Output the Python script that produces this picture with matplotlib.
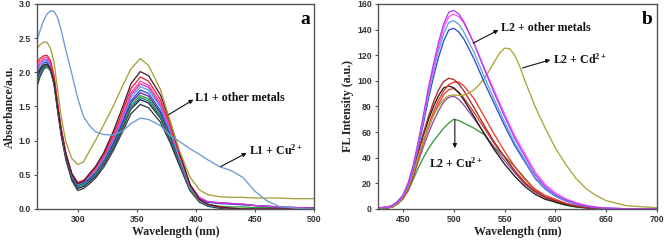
import matplotlib
matplotlib.use("Agg")
import matplotlib.pyplot as plt

plt.rcParams['mathtext.fontset'] = 'custom'
plt.rcParams['mathtext.rm'] = 'Liberation Serif:bold'
plt.rcParams['mathtext.bf'] = 'Liberation Serif:bold'
plt.rcParams['mathtext.it'] = 'Liberation Serif:bold'

# ---------------- Panel a data (absorbance) ----------------
wl_a = [265, 268, 271, 274, 277, 280, 283, 286, 290, 295, 300, 305, 310, 315, 322, 330, 338,
        345, 353, 360, 370, 378, 386, 395, 403, 410, 420, 430, 440, 450, 460, 470, 485, 500]

abs_cu = [2.43, 2.6, 2.75, 2.85, 2.9, 2.89, 2.8, 2.62, 2.32, 1.98, 1.62, 1.35, 1.22, 1.13, 1.09, 1.08, 1.14,
          1.25, 1.33, 1.31, 1.22, 1.08, 0.99, 0.88, 0.8, 0.72, 0.62, 0.56, 0.46, 0.26, 0.12, 0.04, 0.01, 0.0]
abs_olive = [2.33, 2.4, 2.44, 2.44, 2.35, 2.15, 1.75, 1.35, 0.98, 0.74, 0.65, 0.69, 0.85, 1.0, 1.23, 1.5, 1.8,
             2.05, 2.2, 2.1, 1.75, 1.3, 0.86, 0.47, 0.28, 0.21, 0.18, 0.17, 0.17, 0.16, 0.16, 0.16, 0.15, 0.15]
abs_plum = [1.95, 2.04, 2.10, 2.12, 2.05, 1.86, 1.49, 1.14, 0.8, 0.51, 0.37,
            0.4, 0.52, 0.62, 0.82, 1.13, 1.49, 1.83, 2.01, 1.95, 1.67, 1.29, 0.84, 0.36, 0.14, 0.07, 0.03, 0.01, 0, 0, 0, 0, 0, 0]
abs_red = [2.12, 2.2, 2.24, 2.25, 2.17, 1.95, 1.55, 1.18, 0.82, 0.52, 0.39,
           0.42, 0.5, 0.6, 0.79, 1.08, 1.43, 1.76, 1.93, 1.87, 1.6, 1.24, 0.81, 0.35, 0.14, 0.07, 0.03, 0.01, 0, 0, 0, 0, 0, 0]
abs_pink = [2.07, 2.16, 2.21, 2.22, 2.15, 1.93, 1.54, 1.17, 0.81, 0.52, 0.38,
            0.41, 0.49, 0.58, 0.77, 1.05, 1.38, 1.7, 1.87, 1.81, 1.55, 1.2, 0.79, 0.34, 0.13, 0.07, 0.03, 0.01, 0, 0, 0, 0, 0, 0]
abs_magenta = [2.02, 2.12, 2.18, 2.19, 2.12, 1.91, 1.52, 1.16, 0.81, 0.51, 0.37,
               0.4, 0.48, 0.57, 0.75, 1.02, 1.35, 1.67, 1.83, 1.78, 1.52, 1.18, 0.79, 0.36, 0.17, 0.11, 0.09, 0.08, 0.07, 0.05, 0.04, 0.03, 0.02, 0.01]
abs_lblue = [1.97, 2.08, 2.15, 2.17, 2.1, 1.89, 1.51, 1.15, 0.8, 0.5, 0.36,
             0.39, 0.47, 0.55, 0.73, 1.0, 1.32, 1.63, 1.79, 1.74, 1.49, 1.15, 0.75, 0.32, 0.13, 0.06, 0.03, 0.01, 0, 0, 0, 0, 0, 0]
abs_blue = [1.92, 2.05, 2.13, 2.15, 2.08, 1.88, 1.5, 1.15, 0.8, 0.5, 0.35,
            0.38, 0.45, 0.54, 0.71, 0.97, 1.29, 1.58, 1.74, 1.69, 1.44, 1.12, 0.74, 0.33, 0.15, 0.1, 0.08, 0.07, 0.06, 0.05, 0.04, 0.03, 0.02, 0.01]
abs_purple = [1.88, 2.02, 2.1, 2.12, 2.06, 1.86, 1.49, 1.14, 0.79, 0.49, 0.35,
              0.38, 0.44, 0.53, 0.7, 0.95, 1.26, 1.55, 1.7, 1.65, 1.41, 1.09, 0.72, 0.32, 0.15, 0.1, 0.09, 0.08, 0.07, 0.05, 0.04, 0.03, 0.02, 0.01]
abs_green = [1.84, 1.99, 2.08, 2.1, 2.04, 1.85, 1.48, 1.13, 0.78, 0.48, 0.34,
             0.37, 0.43, 0.51, 0.68, 0.93, 1.23, 1.51, 1.66, 1.61, 1.38, 1.06, 0.7, 0.3, 0.12, 0.06, 0.04, 0.03, 0.03, 0.02, 0.02, 0.02, 0.02, 0.02]
abs_teal = [1.8, 1.96, 2.06, 2.08, 2.03, 1.84, 1.47, 1.12, 0.77, 0.47, 0.32,
            0.35, 0.42, 0.5, 0.67, 0.91, 1.21, 1.48, 1.63, 1.58, 1.35, 1.04, 0.68, 0.29, 0.11, 0.05, 0.02, 0.01, 0, 0, 0, 0, 0, 0]
abs_navy = [1.78, 1.95, 2.06, 2.1, 2.04, 1.84, 1.46, 1.1, 0.75, 0.45, 0.3,
            0.33, 0.4, 0.48, 0.65, 0.89, 1.18, 1.46, 1.6, 1.55, 1.33, 1.02, 0.67, 0.28, 0.11, 0.05, 0.02, 0.01, 0, 0, 0, 0, 0, 0]
abs_black = [1.76, 1.93, 2.04, 2.08, 2.02, 1.82, 1.44, 1.08, 0.72, 0.42, 0.27,
             0.3, 0.37, 0.45, 0.61, 0.85, 1.13, 1.39, 1.53, 1.48, 1.27, 0.98, 0.64, 0.27, 0.1, 0.04, 0.01, 0, 0, 0, 0, 0, 0, 0]

series_a = [
    (abs_black, '#3a3a3a'), (abs_navy, '#1b2452'), (abs_teal, '#1f7f7f'), (abs_green, '#2ca02c'),
    (abs_purple, '#6a1fa0'), (abs_blue, '#2b4fd8'), (abs_lblue, '#3fa9f5'), (abs_magenta, '#d633d6'),
    (abs_pink, '#ff4d94'), (abs_red, '#e8253a'), (abs_plum, '#4a2030'),
    (abs_olive, '#a6a13a'), (abs_cu, '#6b9bd0'),
]

# ---------------- Panel b data (fluorescence) ----------------
wl_b = [425, 435, 440, 445, 450, 455, 460, 465, 470, 475, 480, 485, 490, 495, 500, 505, 510,
        520, 530, 540, 550, 560, 570, 580, 590, 600, 610, 620, 630, 640, 650, 670, 700]

fl_t1 = [0.8, 1.6, 3.1, 6.2, 10.9, 20.2, 34.1, 52.7, 72.9, 94.6, 113.2, 130.2, 144.2, 153.5, 155, 152, 146,
         129, 109, 90, 72, 55, 41, 27, 17.5, 11.2, 7.2, 4.3, 2.4, 1.3, 0.6, 0.2, 0]
fl_t2 = [0.8, 1.5, 3.0, 6.0, 10.5, 19.5, 33, 51, 71, 92, 110, 127, 141, 150, 152, 150, 145,
         129, 110, 92, 74, 57, 43, 29, 19, 12.5, 8, 5, 2.8, 1.5, 0.7, 0.2, 0]
fl_t3 = [0.7, 1.5, 2.9, 5.9, 10.3, 19.1, 32.3, 50, 69, 89.7, 107.3, 123.5, 136.7, 145.5, 147, 144, 138,
         122, 103, 85, 67.6, 51.5, 38.2, 25, 16.2, 10.3, 6.6, 4, 2.2, 1.2, 0.6, 0.1, 0]
fl_t4 = [0.7, 1.4, 2.8, 5.6, 9.9, 18.3, 31, 48, 66.3, 86, 103, 118.4, 131, 139.6, 141, 138, 132.5,
         117, 98.7, 81.8, 65, 49.4, 36.7, 24, 15.5, 9.9, 6.3, 3.8, 2.1, 1.1, 0.6, 0.1, 0]
fl_darkred = [0.5, 1, 2.1, 5.2, 9.5, 18, 30, 45, 59, 72, 83.5, 93, 99.5, 102, 101, 97.5, 92,
              79, 65, 52, 40.5, 29.5, 20, 13.5, 9, 6.5, 4, 2.2, 1.1, 0.5, 0.3, 0.1, 0]
fl_red = [0.5, 1, 2, 4.5, 8.5, 15.5, 26, 39, 53, 65, 76, 85, 92, 97, 99, 99, 96,
          86, 72, 58, 45, 33, 23, 15.5, 10.5, 7.5, 4.5, 2.5, 1.3, 0.6, 0.3, 0.1, 0]
fl_black = [0.5, 1, 2.1, 5.3, 9.5, 18, 30, 44, 57.5, 69.5, 80, 88.5, 94.5, 96, 94.5, 90.5, 85,
            72, 58.5, 46, 35, 25.5, 17.5, 11.5, 7.5, 5.5, 3.2, 1.8, 0.9, 0.4, 0.2, 0.1, 0]
fl_orange = [0.5, 0.9, 1.9, 4.7, 8.5, 16, 26.3, 39.5, 51.7, 63, 73.3, 81.8, 89.3, 93, 94, 91.2, 86.5,
             75.2, 63, 50.8, 40.4, 30, 20.7, 14.1, 9.4, 7, 4.2, 2.3, 1.2, 0.6, 0.3, 0.1, 0]
fl_purple = [0.4, 0.9, 1.8, 4.4, 8, 15, 24.6, 37, 48.4, 59, 68.6, 76.6, 83.6, 87.1, 88, 85.4, 81,
             70.4, 59, 47.5, 37.8, 28.2, 19.4, 13.2, 8.8, 6.6, 4, 2.2, 1.1, 0.5, 0.3, 0.1, 0]
fl_cu = [0.4, 0.8, 1.6, 4, 8, 14, 23, 32, 40, 47, 53, 58, 63, 67, 70, 69, 67,
         63, 58, 48, 41, 33, 24, 15, 9, 5, 3, 1.5, 0.8, 0.3, 0.1, 0, 0]

wl_cd = [425, 435, 440, 445, 450, 455, 460, 465, 470, 475, 480, 485, 490, 495, 500, 505, 510,
         515, 520, 525, 530, 535, 540, 545, 550, 555, 560, 565, 570, 580, 590, 600, 610, 620,
         630, 640, 650, 670, 700]
fl_cd = [0.5, 1, 2, 4.8, 9, 17, 28, 41, 53, 64, 73, 80, 85.5, 88.5, 89, 88.5, 89,
         90.5, 93, 97, 102, 108, 115, 121.5, 125.5, 125, 120, 111, 100, 80, 63, 47.5, 35, 24,
         16, 10.5, 6.5, 2.5, 1]

series_b = [
    (wl_b, fl_cu, '#3a9a3a'), (wl_b, fl_purple, '#8d4fa6'), (wl_b, fl_orange, '#d94030'),
    (wl_b, fl_black, '#1e1e1e'), (wl_b, fl_red, '#f03a2a'), (wl_b, fl_darkred, '#a82a2a'),
    (wl_cd, fl_cd, '#aaa53a'),
    (wl_b, fl_t4, '#2b4fc8'), (wl_b, fl_t3, '#5fa5e0'), (wl_b, fl_t2, '#ff55ff'), (wl_b, fl_t1, '#b43cf0'),
]

serif = ['Liberation Serif', 'DejaVu Serif']
sans = ['Liberation Sans', 'DejaVu Sans']

fig = plt.figure(figsize=(6.66, 2.45), dpi=100)
ax1 = fig.add_axes([0.0556, 0.147, 0.4159, 0.837])
ax2 = fig.add_axes([0.5676, 0.147, 0.4189, 0.837])

for y, c in series_a:
    ax1.plot(wl_a, y, color=c, lw=0.95)
for x, y, c in series_b:
    ax2.plot(x, y, color=c, lw=0.95)

ax1.set_xlim(265.6, 500)
ax1.set_ylim(0, 3.0)
ax1.set_xticks([300, 350, 400, 450, 500])
ax1.set_yticks([0.0, 0.5, 1.0, 1.5, 2.0, 2.5, 3.0])
ax1.set_yticklabels(['0.0', '0.5', '1.0', '1.5', '2.0', '2.5', '3.0'])
ax2.set_xlim(425.4, 700)
ax2.set_ylim(0, 160)
ax2.set_xticks([450, 500, 550, 600, 650, 700])
ax2.set_yticks(list(range(0, 161, 20)))

for ax in (ax1, ax2):
    for s in ax.spines.values():
        s.set_color('#555555')
        s.set_linewidth(1.0)
    ax.tick_params(direction='out', length=2.5, width=0.8, color='#555555', pad=2)
    for lab in ax.get_xticklabels() + ax.get_yticklabels():
        lab.set_fontfamily(sans)
        lab.set_fontweight('bold')
        lab.set_fontsize(6.3)
        lab.set_color('#333333')
    ax.set_xlabel('Wavelength (nm)', fontfamily=serif, fontweight='bold', fontsize=8.6, labelpad=1, color='#222222')

ax1.set_ylabel('Absorbance/a.u.', fontfamily=serif, fontweight='bold', fontsize=8.6, labelpad=2, color='#222222')
ax2.set_ylabel('FL Intensity (a.u.)', fontfamily=serif, fontweight='bold', fontsize=8.6, labelpad=2, color='#222222')

ax1.text(0.985, 0.965, 'a', transform=ax1.transAxes, ha='right', va='top',
         fontfamily=serif, fontweight='bold', fontsize=14)
ax2.text(0.985, 0.965, 'b', transform=ax2.transAxes, ha='right', va='top',
         fontfamily=serif, fontweight='bold', fontsize=14)

arrow = dict(arrowstyle='-|>', color='#111111', lw=0.8, mutation_scale=6, shrinkA=0, shrinkB=0)
tk = dict(fontfamily=serif, fontweight='bold', fontsize=8.6, color='#111111', va='center', ha='left')

ax1.annotate('', xy=(398, 1.6), xytext=(377, 1.38), arrowprops=arrow)
ax1.text(399.5, 1.62, 'L1 + other metals', **tk)
ax1.annotate('', xy=(443, 0.82), xytext=(421, 0.62), arrowprops=arrow)
ax1.text(445, 0.86, 'L1 + Cu$^{2+}$', **tk)

ax2.annotate('', xy=(544, 139.7), xytext=(519, 129.4), arrowprops=arrow)
ax2.text(546, 141, 'L2 + other metals', **tk)
ax2.annotate('', xy=(595, 116.4), xytext=(567.4, 110), arrowprops=arrow)
ax2.text(598, 116.5, 'L2 + Cd$^{2+}$', **tk)
ax2.annotate('', xy=(501, 47.5), xytext=(501, 69.8), arrowprops=arrow)
ax2.text(502, 36, 'L2 + Cu$^{2+}$', **dict(tk, ha='center'))

fig.savefig('out.png', dpi=100)
